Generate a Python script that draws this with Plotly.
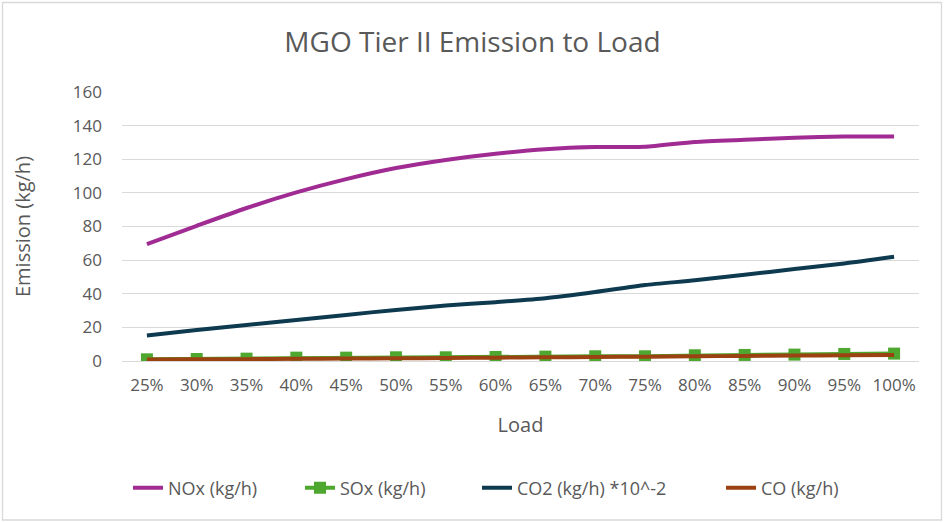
import plotly.graph_objects as go

loads = ["25%", "30%", "35%", "40%", "45%", "50%", "55%", "60%", "65%", "70%",
         "75%", "80%", "85%", "90%", "95%", "100%"]
nox = [69.5, 80.4, 91.0, 100.3, 108.2, 114.8, 119.6, 123.3, 126.0, 127.3,
       127.4, 130.3, 131.6, 132.8, 133.5, 133.5]
sox = [1.0, 1.2, 1.4, 2.0, 2.0, 2.2, 2.2, 2.4, 2.6, 2.8, 2.8, 3.4, 3.6, 3.8, 4.2, 4.4]
co2 = [15.2, 18.4, 21.4, 24.4, 27.4, 30.4, 33.0, 35.0, 37.3, 41.0, 45.2, 48.0,
       51.3, 54.7, 58.0, 62.0]
co = [0.9, 1.0, 1.1, 1.3, 1.5, 1.6, 1.8, 2.0, 2.2, 2.4, 2.6, 2.8, 3.0, 3.2, 3.4, 3.6]

names = ["NOx (kg/h)", "SOx (kg/h)", "CO2 (kg/h) *10^-2", "CO (kg/h)"]
FONT = "Open Sans"
GRAY = "#595959"

fig = go.Figure()
fig.add_trace(go.Scatter(x=loads, y=nox, name=names[0], mode="lines", legend="legend",
                         line=dict(color="#A02B93", width=4, shape="spline", smoothing=0.6)))
fig.add_trace(go.Scatter(x=loads, y=sox, name=names[1], mode="lines+markers", legend="legend2",
                         line=dict(color="#4EA72E", width=4),
                         marker=dict(symbol="square", size=12, color="#4EA72E")))
fig.add_trace(go.Scatter(x=loads, y=co2, name=names[2], mode="lines", legend="legend3",
                         line=dict(color="#0E3A50", width=4, shape="spline", smoothing=0.6)))
fig.add_trace(go.Scatter(x=loads, y=co, name=names[3], mode="lines", legend="legend4",
                         line=dict(color="#9C4212", width=4, shape="spline", smoothing=0.6)))

L, R, T, B = 122, 26, 92, 161
W, H = 945, 522
pw, ph = W - L - R, H - T - B

def px(x):
    return (x - L) / pw

def py(y):
    return (H - B - y) / ph

def leg(text_start):
    return dict(orientation="h", x=px(text_start - 40), xanchor="left",
                y=py(488), yanchor="middle", font=dict(size=18, color=GRAY),
                itemwidth=30, bgcolor="rgba(0,0,0,0)")

fig.update_layout(
    width=W, height=H,
    margin=dict(l=L, r=R, t=T, b=B),
    paper_bgcolor="white", plot_bgcolor="white",
    font=dict(family=FONT, color=GRAY, size=17),
    title=dict(text="MGO Tier II Emission to Load", x=0.5, xanchor="center",
               y=1 - 42 / H, yanchor="middle",
               font=dict(family=FONT, size=28, color=GRAY)),
    xaxis=dict(type="category", range=[-0.5, 15.5], showgrid=False, showline=False,
               zeroline=False, ticks="", tickfont=dict(size=17, color=GRAY),
               ticklabelstandoff=12,
               title=dict(text="Load", font=dict(size=20, color=GRAY), standoff=22)),
    yaxis=dict(range=[0, 160], dtick=20, showgrid=True, gridcolor="#d9d9d9", gridwidth=1,
               zeroline=True, zerolinecolor="#d9d9d9", zerolinewidth=1,
               showline=False, ticks="", tickfont=dict(size=17, color=GRAY),
               ticklabelstandoff=19,
               title=dict(text="Emission (kg/h)", font=dict(size=20, color=GRAY), standoff=36)),
    legend=leg(168), legend2=leg(340), legend3=leg(517), legend4=leg(761),
    showlegend=True,
    shapes=[dict(type="rect", xref="paper", yref="paper",
                 x0=px(2.5), x1=px(941.5), y0=py(520), y1=py(2.5),
                 line=dict(color="#d9d9d9", width=1.3), fillcolor="rgba(0,0,0,0)",
                 layer="below")],
)

fig.write_html("out.html")
